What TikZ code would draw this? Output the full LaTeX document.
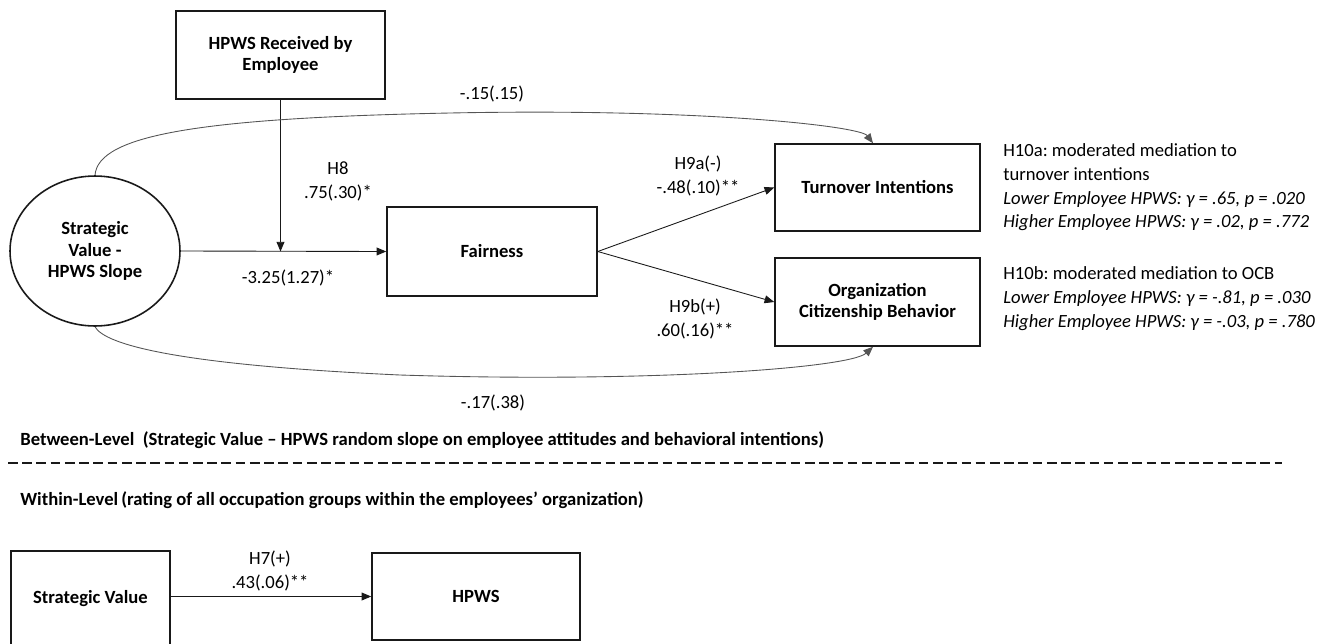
\documentclass[tikz,border=0pt]{standalone}
\usepackage{fontspec}
\setmainfont{Carlito}
\usepackage{tikz}
\usetikzlibrary{arrows.meta, positioning, calc, shapes.geometric}
\definecolor{ink}{RGB}{25,25,25}
\definecolor{curve}{RGB}{85,85,85}
\frenchspacing

\begin{document}
\begin{tikzpicture}[x=0.02cm, y=-0.02cm, font=\fontsize{10.6}{13}\selectfont,
  box/.style={draw=ink, line width=0.9pt, inner sep=0pt, align=center,
              font=\fontsize{10.6}{12.3}\selectfont\bfseries},
  arr/.style={-{Triangle[length=5.5pt,width=4.5pt]}, ink, line width=0.5pt},
  lbl/.style={align=center, inner sep=0pt, font=\fontsize{10.6}{13.6}\selectfont}]
  \useasboundingbox (0,0) rectangle (1333,643);
  % between level
  \node[box, ellipse, minimum width=3.4cm, minimum height=3cm]
    (slope) at (95,251) {Strategic\\Value -\\HPWS Slope};
  \node[box, minimum width=4.18cm, minimum height=1.76cm]
    (rec) at (280.5,55) {HPWS Received by\\Employee};
  \node[box, minimum width=4.2cm, minimum height=1.78cm]
    (fair) at (492,251.5) {Fairness};
  \node[box, minimum width=4.1cm, minimum height=1.74cm]
    (turn) at (877.5,187.5) {Turnover Intentions};
  \node[box, minimum width=4.1cm, minimum height=1.76cm]
    (ocb) at (877.5,302) {Organization\\Citizenship Behavior};
  \coordinate (mod) at (rec.south |- fair.west);
  \draw[arr] (slope.east) -- (fair.west);
  \draw[arr] (rec) -- (mod);
  \draw[arr] (fair.east) -- (turn.west);
  \draw[arr] (fair.east) -- (ocb.west);
  % direct paths round the mediator
  \draw[arr, curve] (slope.north) .. controls (98,135) and (200,118) .. (450,113)
    .. controls (700,108) and (860,126) .. ([xshift=-0.09cm]turn.north);
  \draw[arr, curve] (slope.south) .. controls (105,345) and (180,365) .. (400,375)
    .. controls (650,383) and (850,368) .. ([xshift=-0.09cm]ocb.south);
  % path estimates
  \node[lbl] (h8) at (338,181) {H8\\.75(.30)*};
  \node[lbl] (bx) at (288,278) {-3.25(1.27)*};
  \node[lbl] (bc1) at (492,94) {-.15(.15)};
  \node[lbl] (h9a) at (698,176) {H9a(-)\\-.48(.10)**};
  \node[lbl] (h9b) at (695,319) {H9b(+)\\.60(.16)**};
  \node[lbl] (bc2) at (493,403) {-.17(.38)};
  \node[lbl, align=left, anchor=north west] (h10a) at (1003,143)
    {H10a: moderated mediation to\\turnover intentions\\
     \textit{Lower Employee HPWS: γ = .65, p = .020}\\
     \textit{Higher Employee HPWS: γ = .02, p = .772}};
  \node[lbl, align=left, anchor=north west] (h10b) at (1003,266)
    {H10b: moderated mediation to OCB\\
     \textit{Lower Employee HPWS: γ = -.81, p = .030}\\
     \textit{Higher Employee HPWS: γ = -.03, p = .780}};
  % level split
  \node[lbl, anchor=west, font=\fontsize{10.6}{12}\selectfont\bfseries] (btw) at (20,440)
    {Between-Level\ \ (Strategic Value – HPWS random slope on employee attitudes and behavioral intentions)};
  \coordinate (d0) at (8,463);
  \coordinate (d1) at (1282,463);
  \draw[ink, line width=1.6pt, dash pattern=on 5.5pt off 2.6pt] (d0) -- (d1);
  \node[lbl, anchor=west, font=\fontsize{10.6}{12}\selectfont\bfseries] (wth) at (20,500)
    {Within-Level\,(rating of all occupation groups within the employees’ organization)};
  % within level
  \node[box, minimum width=3.18cm, minimum height=1.9cm]
    (sv) at (90.5,598.5) {Strategic Value};
  \node[box, minimum width=4.16cm, minimum height=1.74cm]
    (hpws) at (476,596.5) {HPWS};
  \draw[arr] (sv.east |- hpws.west) -- (hpws.west);
  \node[lbl] (h7) at (270,571) {H7(+)\\.43(.06)**};
\end{tikzpicture}
\end{document}
